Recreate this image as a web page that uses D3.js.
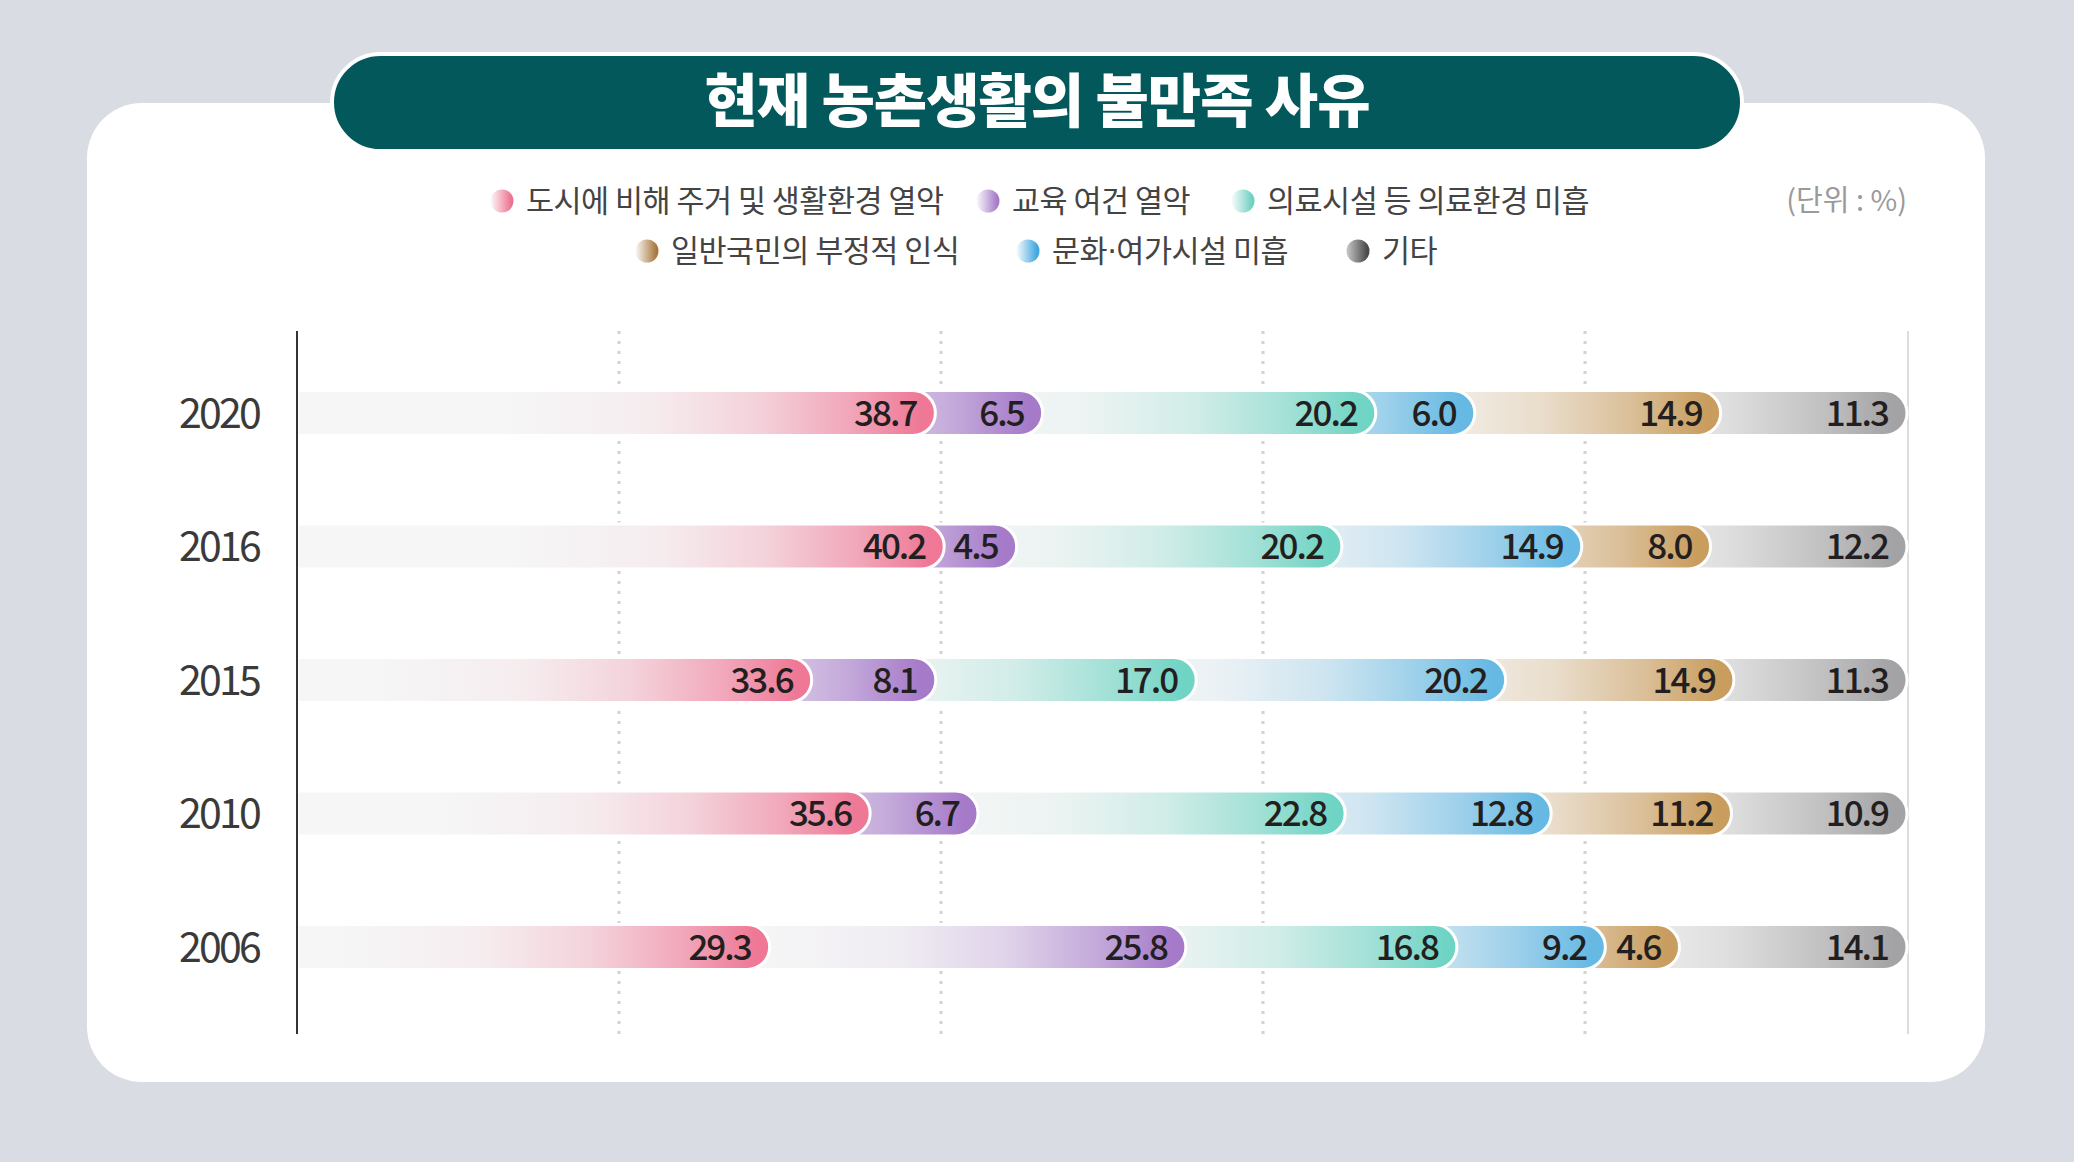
<!DOCTYPE html>
<html>
<head>
<meta charset="utf-8">
<script src="https://cdn.jsdelivr.net/npm/d3@7"></script>
<style>
  html, body { margin: 0; padding: 0; background: #d9dce3; }
  svg { display: block; }
  text { font-family: "Noto Sans CJK KR", "Noto Sans", sans-serif; }
</style>
</head>
<body>
<svg id="chart" width="2074" height="1162"></svg>
<script>
// ---------- DATA ----------
const title = "현재 농촌생활의 불만족 사유";
const unitLabel = "(단위 : %)";
const years = ["2020", "2016", "2015", "2010", "2006"];
const categories = [
  "도시에 비해 주거 및 생활환경 열악",
  "교육 여건 열악",
  "의료시설 등 의료환경 미흡",
  "문화·여가시설 미흡",
  "일반국민의 부정적 인식",
  "기타"
];
// series values, one array per category, in order of years
const housing    = [38.7, 40.2, 33.6, 35.6, 29.3];
const education  = [6.5, 4.5, 8.1, 6.7, 25.8];
const medical    = [20.2, 20.2, 17.0, 22.8, 16.8];
const culture    = [6.0, 14.9, 20.2, 12.8, 9.2];
const perception = [14.9, 8.0, 14.9, 11.2, 4.6];
const other      = [11.3, 12.2, 11.3, 10.9, 14.1];
const seriesValues = [housing, education, medical, culture, perception, other];
const colors = ["#ee7896", "#a57ac9", "#70d4c4", "#66b9e3", "#c99d5e", "#a3a3a5"];
const legendColors = ["#ec7290", "#a57ac9", "#6fd0c0", "#3fa6e0", "#a8783e", "#4a4a4a"];
// legend layout order (category indices), two rows
const legendRows = [[0, 1, 2], [4, 3, 5]];
const gridTicks = [0.2, 0.4, 0.6, 0.8];

// ---------- LAYOUT ----------
const svg = d3.select("#chart");
const W = 2074, H = 1162;
const left = 297, right = 1907;
const axisTop = 331, axisBottom = 1034;
const barH = 45, r = barH / 2;
const fadeLen = 430;

const table = years.map((y, i) => {
  const row = { year: y };
  categories.forEach((c, k) => row[c] = seriesValues[k][i]);
  return row;
});
const stack = d3.stack().keys(categories).offset(d3.stackOffsetExpand);
const stacked = stack(table);

const x = d3.scaleLinear().domain([0, 1]).range([left, right]);
const y = d3.scalePoint().domain(years).range([413, 947]);

// ---------- DEFS ----------
const defs = svg.append("defs");
const fadeStops = [[0, 0], [0.35, 0.08], [0.6, 0.28], [0.82, 0.62], [1, 1]];
stacked.forEach(s => {
  const k = s.index;
  s.forEach((d, i) => {
    const xe = x(d[1]);
    const g = defs.append("linearGradient").attr("id", `g${k}_${i}`)
      .attr("gradientUnits", "userSpaceOnUse")
      .attr("x1", xe - fadeLen).attr("x2", xe - r * 0.6).attr("y1", 0).attr("y2", 0);
    fadeStops.forEach(([o, a]) => {
      g.append("stop").attr("offset", o).attr("stop-color", colors[k]).attr("stop-opacity", a);
    });
  });
});
legendColors.forEach((c, k) => {
  const lg = defs.append("linearGradient").attr("id", "lgrad" + k)
    .attr("x1", 0).attr("x2", 1).attr("y1", 0).attr("y2", 0);
  lg.append("stop").attr("offset", 0).attr("stop-color", c).attr("stop-opacity", k === 5 ? 0.3 : 0.05);
  lg.append("stop").attr("offset", 0.9).attr("stop-color", c);
});

// ---------- BACKGROUND ----------
svg.append("rect").attr("width", W).attr("height", H).attr("fill", "#d9dce3");
svg.append("rect").attr("x", 87).attr("y", 103).attr("width", 1898).attr("height", 979)
  .attr("rx", 55).attr("fill", "#ffffff");

// title pill
svg.append("rect").attr("x", 332).attr("y", 54).attr("width", 1410).attr("height", 97)
  .attr("rx", 48.5).attr("fill", "#02585a").attr("stroke", "#ffffff").attr("stroke-width", 4);
svg.append("text").attr("x", 1037).attr("y", 101).attr("dy", "0.36em")
  .attr("text-anchor", "middle").attr("fill", "#ffffff")
  .attr("font-size", 58).attr("font-weight", 900).attr("letter-spacing", -1)
  .text(title);

// legend
const legendPos = [
  [[502, 201], [988, 201], [1243, 201]],
  [[647, 251], [1028, 251], [1358, 251]]
];
legendRows.forEach((row, ri) => {
  row.forEach((k, ci) => {
    const [lx, ly] = legendPos[ri][ci];
    svg.append("circle").attr("cx", lx).attr("cy", ly).attr("r", 11.5)
      .attr("fill", "url(#lgrad" + k + ")");
    const parts = categories[k].split("·");
    const t = svg.append("text").attr("x", lx + 24).attr("y", ly).attr("dy", "0.36em")
      .attr("fill", "#444444").attr("font-size", 30.5).attr("letter-spacing", -0.5);
    parts.forEach((p, pi) => {
      if (pi > 0) t.append("tspan").attr("font-family", "DejaVu Sans").text("·");
      t.append("tspan").text(p);
    });
  });
});
svg.append("text").attr("x", 1907).attr("y", 201).attr("dy", "0.36em")
  .attr("text-anchor", "end").attr("fill", "#9a9a9a").attr("font-size", 29)
  .text(unitLabel);

// ---------- GRID & AXES ----------
svg.append("g").selectAll("line").data(gridTicks).join("line")
  .attr("x1", d => x(d)).attr("x2", d => x(d))
  .attr("y1", axisTop).attr("y2", axisBottom)
  .attr("stroke", "#d2d2d2").attr("stroke-width", 3).attr("stroke-dasharray", "3,7");
svg.append("line").attr("x1", x(1) + 1).attr("x2", x(1) + 1)
  .attr("y1", axisTop).attr("y2", axisBottom)
  .attr("stroke", "#dcdcdc").attr("stroke-width", 2);

// tracks
svg.append("g").selectAll("rect").data(years).join("rect")
  .attr("x", left).attr("y", d => y(d) - r).attr("width", x(1) - r - left).attr("height", barH)
  .attr("fill", "#f6f6f6");

// segments: last series drawn first so earlier ones sit on top
const segPath = (x0, x1, yc, first) => {
  const xs = first ? x0 : x0 - r;
  return `M${xs},${yc - r}H${x1 - r}A${r},${r} 0 0 1 ${x1 - r},${yc + r}H${xs}Z`;
};
const gBars = svg.append("g");
stacked.slice().reverse().forEach(s => {
  const k = s.index;
  const g = gBars.append("g");
  s.forEach((d, i) => {
    const p = segPath(x(d[0]), x(d[1]), y(d.data.year), k === 0);
    g.append("path").attr("d", p).attr("fill", "#f6f6f6");
    g.append("path").attr("d", p).attr("fill", `url(#g${k}_${i})`)
      .attr("stroke", "#ffffff").attr("stroke-width", 3).attr("stroke-linejoin", "round");
  });
});

// value labels
stacked.forEach(s => {
  svg.append("g").selectAll("text").data(s).join("text")
    .attr("x", d => x(d[1]) - 19).attr("y", d => y(d.data.year)).attr("dy", "0.37em")
    .attr("text-anchor", "end").attr("fill", "#231f20")
    .attr("font-size", 35).attr("font-weight", 500).attr("letter-spacing", -2)
    .text(d => d3.format(".1f")(d.data[s.key]));
});

// axis line
svg.append("line").attr("x1", left).attr("x2", left)
  .attr("y1", axisTop).attr("y2", axisBottom)
  .attr("stroke", "#333333").attr("stroke-width", 2);

// year labels
svg.append("g").selectAll("text").data(years).join("text")
  .attr("x", 219).attr("y", d => y(d)).attr("dy", "0.36em")
  .attr("text-anchor", "middle").attr("fill", "#3a3a3a")
  .attr("font-size", 41).attr("letter-spacing", -2.8)
  .text(d => d);
</script>
</body>
</html>
